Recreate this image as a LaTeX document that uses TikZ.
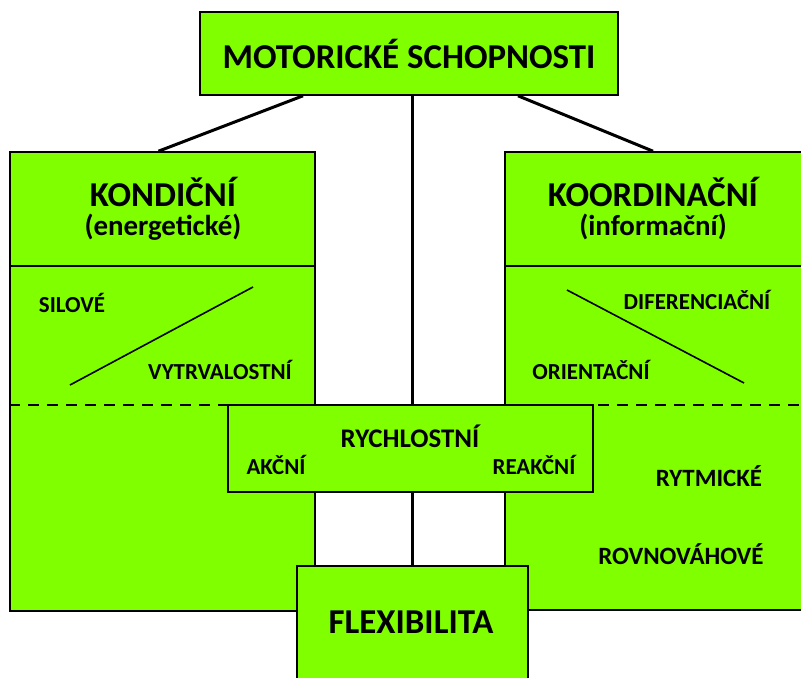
\documentclass[tikz,border=0pt]{standalone}
\usepackage{fontspec}
\setmainfont{Carlito}
\usetikzlibrary{positioning}

\definecolor{limegreen}{RGB}{128,255,0}

\tikzset{
    box/.style={draw=black, fill=limegreen, line width=1.6bp, inner sep=0pt},
    link/.style={line width=3bp},
    big/.style={font=\fontsize{35}{40}\selectfont\bfseries},
    mid/.style={font=\fontsize{27}{31}\selectfont\bfseries},
    small/.style={font=\fontsize{23}{27}\selectfont\bfseries}
}

\begin{document}
\begin{tikzpicture}[x=1bp, y=-1bp]
        \useasboundingbox (0,0) rectangle (801,678);
        \clip (0,0) rectangle (801,678);

        % Draw side boxes
        \node[box, minimum width=305bp, minimum height=459bp] (kond) at (162.5,381.5) {};
        \node[box, minimum width=300bp, minimum height=458bp] (koord) at (655,381) {};

        %divider lines
        \draw[line width=1.6bp] (kond.west |- 0,266) coordinate (ks) -- (kond.east |- 0,266) coordinate (ke);
        \draw[line width=1.6bp] (koord.west |- 0,266) coordinate (os) -- (koord.east |- 0,266) coordinate (oe);
        \draw[line width=1.8bp, dash pattern=on 11bp off 8bp] (kond.west |- 0,405) -- (koord.east |- 0,405);

        %diagonal lines
        \draw[line width=1.6bp] (70,385) -- (253,287);
        \draw[line width=1.6bp] (567,290) -- (744,383);

        % Top box
        \node[box, big, minimum width=418bp, minimum height=83bp] (top) at (409,53.5) {MOTORICKÉ SCHOPNOSTI};

        % Bottom boxes
        \node[box, minimum width=231bp, minimum height=140bp] (flex) at (412.5,636) {};
        \draw[link] (top.south -| flex.north) -- (flex.north);
        \node[box, minimum width=365bp, minimum height=87bp] (rych) at (410.5,448.5) {};
        \node[box, minimum width=231bp, minimum height=140bp] (flex) at (412.5,636) {};

        \draw[link] ([xshift=-106bp]top.south) -- ([xshift=-4bp]kond.north);
        \draw[link] ([xshift=109bp]top.south) -- ([xshift=-2bp]koord.north);

        % Texts
        \node[big] (kondt) at (163,192) {KONDIČNÍ};
        \node[mid, font=\fontsize{29}{33}\selectfont\bfseries] (konde) at (163,227) {(energetické)};
        \node[big] (koordt) at (653,192) {KOORDINAČNÍ};
        \node[mid, font=\fontsize{29}{33}\selectfont\bfseries] (koordi) at (653,227) {(informační)};

        \node[small] (sil) at (72,303) {SILOVÉ};
        \node[small] (vytr) at (220,370) {VYTRVALOSTNÍ};
        \node[small] (dif) at (697,300) {DIFERENCIAČNÍ};
        \node[small] (ori) at (591,370) {ORIENTAČNÍ};

        \node[mid] (rycht) at (410,436) {RYCHLOSTNÍ};
        \node[small] (akc) at (276,465) {AKČNÍ};
        \node[small] (reak) at (534,465) {REAKČNÍ};

        \node[mid, font=\fontsize{25}{29}\selectfont\bfseries] (ryt) at (709,476) {RYTMICKÉ};
        \node[mid, font=\fontsize{25}{29}\selectfont\bfseries] (rovn) at (681,554) {ROVNOVÁHOVÉ};

        \node[big] (flext) at (411,622) {FLEXIBILITA};
    \end{tikzpicture}
\end{document}
